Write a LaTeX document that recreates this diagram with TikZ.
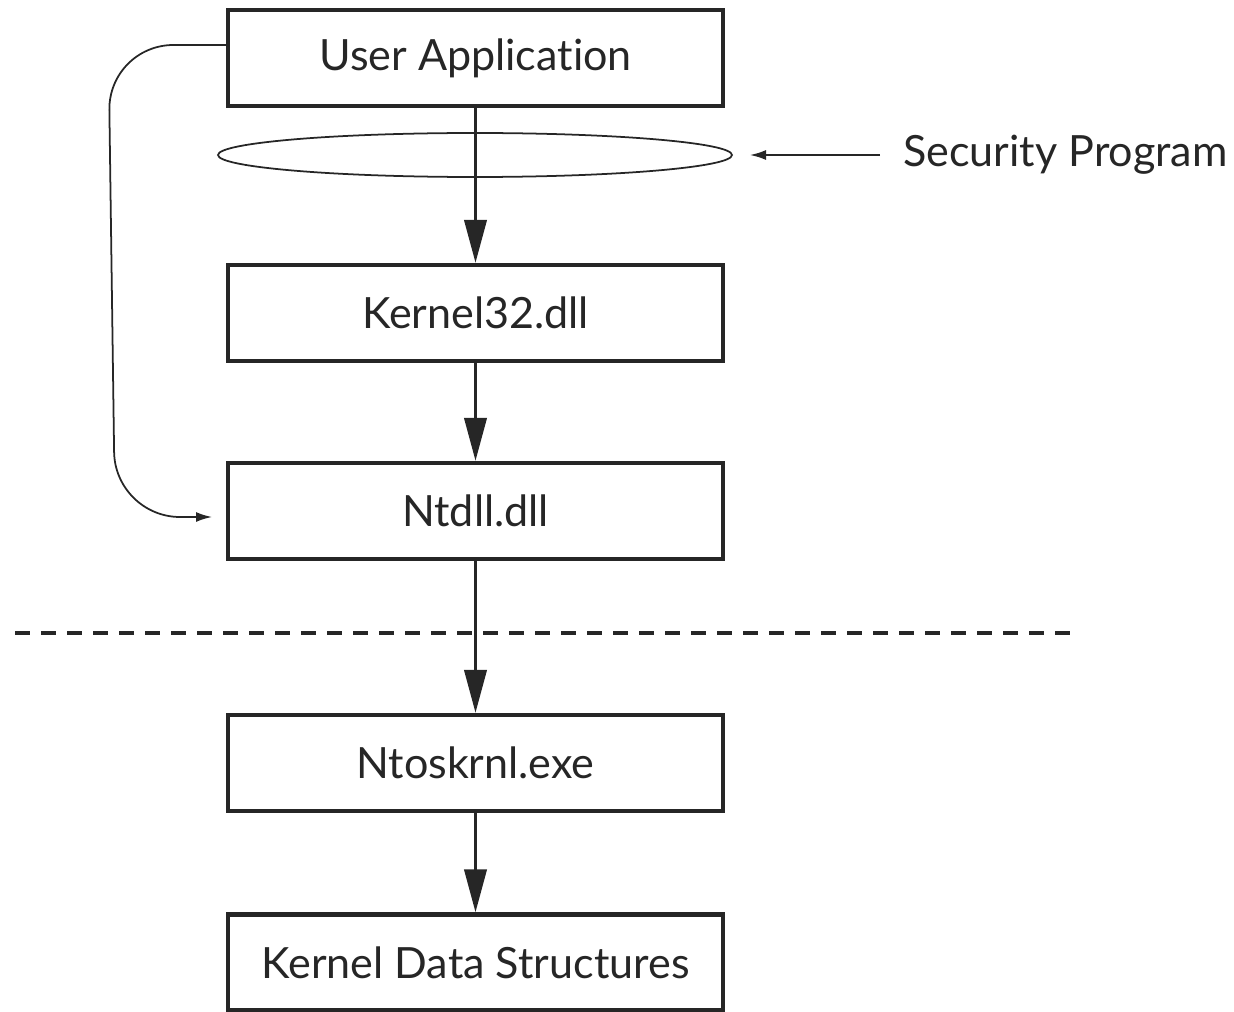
\documentclass[tikz,border=0pt]{standalone}
\usepackage{fontspec}
\setmainfont{Lato}[Ligatures={NoCommon,NoRare}]
\usetikzlibrary{shapes.geometric, positioning, arrows.meta}

\tikzset{
	layerbox/.style={draw=black!85, line width=2.3pt, minimum width=9.9cm, minimum height=1.92cm, inner sep=0pt, text=black!85, font=\fontsize{24.5}{28}\selectfont},
	callarrow/.style={draw=black!85, line width=2.2pt, -{Triangle[length=0.86cm,width=0.44cm]}},
	thinarrow/.style={draw=black!85, line width=1pt, -{Latex[length=0.32cm,width=0.2cm]}}
}

\begin{document}
\begin{tikzpicture}
				  \useasboundingbox (0,0) rectangle (24.68,-20.24);
				  \node[layerbox] (app) at (9.51,-1.16) {User Application};
				  \node[layerbox] (k32) at (9.51,-6.26) {Kernel32.dll};
				  \node[layerbox] (ntdll) at (9.51,-10.22) {Ntdll.dll};
				  \node[layerbox] (ntos) at (9.51,-15.26) {Ntoskrnl.exe};
				  \node[layerbox] (kds) at (9.51,-19.25) {Kernel Data Structures};
				  \node[draw=black!85, line width=1pt, ellipse, minimum width=10.28cm, minimum height=0.88cm, inner sep=0pt] (hook) at (9.5,-3.1) {};
				  \node[anchor=west, inner sep=0pt, text=black!85, font=\fontsize{24.5}{28}\selectfont] (sec) at (18.06,-3.1) {Security Program};
				  \coordinate (secstart) at (17.6,-3.1);
				  \coordinate (secend) at (15.0,-3.1);
				  \coordinate (bypass) at (4.24,-10.34);
				  \draw[callarrow] (app) -- (k32);
				  \draw[callarrow] (k32) -- (ntdll);
				  \draw[callarrow] (ntdll) -- (ntos);
				  \draw[callarrow] (ntos) -- (kds);
				  \draw[thinarrow] (secstart) -- (secend);
				  \draw[thinarrow, rounded corners=1.3cm] ([yshift=0.26cm]app.west) -- ++(-2.35,0) -- (2.3,-10.34) -- (bypass);
				  \draw[black!85, line width=2pt, dash pattern=on 0.3cm off 0.22cm] (0.3,-12.66) -- (21.5,-12.66);
				\end{tikzpicture}
\end{document}
